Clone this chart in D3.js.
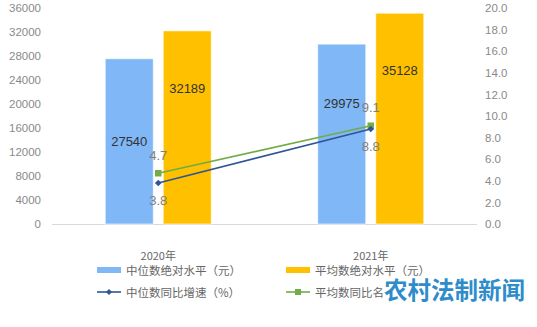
<!DOCTYPE html>
<html>
<head>
<meta charset="utf-8">
<script src="https://cdn.jsdelivr.net/npm/d3@7"></script>
<style>
  html, body { margin: 0; padding: 0; background: #fff; }
  svg { display: block; font-family: "Noto Sans CJK SC", "Liberation Sans", sans-serif; }
</style>
</head>
<body>
<svg id="chart" width="537" height="327"></svg>
<script>
// Income data: 2020 and 2021
const years = ["2020年", "2021年"];
const medianLevel = [27540, 29975];   // 中位数绝对水平（元）
const meanLevel = [32189, 35128];     // 平均数绝对水平（元）
const medianGrowth = [3.8, 8.8];      // 中位数同比增速（%）
const meanGrowth = [4.7, 9.1];        // 平均数同比名义增速（%）
const leftTicks = [0, 4000, 8000, 12000, 16000, 20000, 24000, 28000, 32000, 36000];
const rightTicks = [0, 2, 4, 6, 8, 10, 12, 14, 16, 18, 20];

const colors = {
  median: "#80b7f6",
  mean: "#ffc000",
  medianLine: "#2f5597",
  meanLine: "#70ad47"
};

const svg = d3.select("#chart");
const plot = { left: 52, right: 477, top: 8, bottom: 224 };

const x = d3.scaleBand().domain(years).range([plot.left, plot.right]);
const yL = d3.scaleLinear().domain([0, 36000]).range([plot.bottom, plot.top]);
const yR = d3.scaleLinear().domain([0, 20]).range([plot.bottom, plot.top]);

const barW = 48, barGap = 10;

// Left axis
const leftAxis = svg.append("g")
  .attr("transform", `translate(${plot.left - 11},0)`)
  .call(d3.axisLeft(yL).tickValues(leftTicks).tickSize(0).tickPadding(0).tickFormat(d3.format("d")));
leftAxis.select(".domain").remove();
leftAxis.selectAll("text").attr("fill", "#8a8a8a").style("font-size", "11.5px")
  .style("font-family", "Liberation Sans, Arial, sans-serif");

// Right axis
const rightAxis = svg.append("g")
  .attr("transform", `translate(${plot.right + 8},0)`)
  .call(d3.axisRight(yR).tickValues(rightTicks).tickSize(0).tickPadding(0).tickFormat(d3.format(".1f")));
rightAxis.select(".domain").remove();
rightAxis.selectAll("text").attr("fill", "#8a8a8a").style("font-size", "11.5px")
  .style("font-family", "Liberation Sans, Arial, sans-serif");

// Baseline
svg.append("line")
  .attr("x1", plot.left).attr("x2", plot.right)
  .attr("y1", plot.bottom + 0.5).attr("y2", plot.bottom + 0.5)
  .attr("stroke", "#d9d9d9").attr("stroke-width", 1);

// Bars
const center = d => x(d) + x.bandwidth() / 2;
const barSeries = [
  { values: medianLevel, color: colors.median, dx: -(barW + barGap / 2) },
  { values: meanLevel, color: colors.mean, dx: barGap / 2 }
];
barSeries.forEach(s => {
  svg.append("g").selectAll("rect")
    .data(years)
    .join("rect")
    .attr("x", (d) => center(d) + s.dx)
    .attr("y", (d, i) => yL(s.values[i]))
    .attr("width", barW)
    .attr("height", (d, i) => plot.bottom - yL(s.values[i]))
    .attr("fill", s.color)
    .attr("stroke", "#ffffff").attr("stroke-opacity", 0.6).attr("stroke-width", 1);
});

// Bar value labels
const barLabelOffsets = [[83, 59], [58, 57]];
barSeries.forEach((s, k) => {
  svg.append("g").selectAll("text")
    .data(years)
    .join("text")
    .attr("x", d => center(d) + s.dx + barW / 2)
    .attr("y", (d, i) => yL(s.values[i]) + barLabelOffsets[k][i])
    .attr("text-anchor", "middle")
    .attr("dominant-baseline", "central")
    .attr("fill", "#333333")
    .style("font-size", "13px")
    .style("font-family", "Liberation Sans, Arial, sans-serif")
    .text((d, i) => s.values[i]);
});

// Growth lines
const lineSeries = [
  { values: meanGrowth, color: colors.meanLine, marker: "square", labelDy: -18 },
  { values: medianGrowth, color: colors.medianLine, marker: "diamond", labelDy: 18 }
];
const line = d3.line().x(d => d[0]).y(d => d[1]);
lineSeries.forEach(s => {
  const pts = years.map((d, i) => [center(d), yR(s.values[i])]);
  svg.append("path")
    .attr("d", line(pts))
    .attr("fill", "none")
    .attr("stroke", s.color)
    .attr("stroke-width", 1.6);
  svg.append("g").selectAll("path")
    .data(pts)
    .join("path")
    .attr("transform", p => `translate(${p[0]},${p[1]})` + (s.marker === "diamond" ? " rotate(45)" : ""))
    .attr("d", s.marker === "square" ? d3.symbol(d3.symbolSquare, 42)() : d3.symbol(d3.symbolSquare, 22)())
    .attr("fill", s.color);
  svg.append("g").selectAll("text")
    .data(pts)
    .join("text")
    .attr("x", p => p[0])
    .attr("y", p => p[1] + s.labelDy)
    .attr("text-anchor", "middle")
    .attr("dominant-baseline", "central")
    .attr("fill", "#7f7f7f")
    .style("font-size", "13px")
    .style("font-family", "Liberation Sans, Arial, sans-serif")
    .text((p, i) => s.values[i].toFixed(1));
});

// Category labels
svg.append("g").selectAll("text")
  .data(years)
  .join("text")
  .attr("x", d => center(d))
  .attr("y", 255)
  .attr("text-anchor", "middle")
  .attr("dominant-baseline", "central")
  .attr("fill", "#666666")
  .style("font-size", "11px")
  .text(d => d);

// Legend
const legendItems = [
  { label: "中位数绝对水平（元）", color: colors.median, type: "bar", x: 97, y: 270 },
  { label: "平均数绝对水平（元）", color: colors.mean, type: "bar", x: 286, y: 270 },
  { label: "中位数同比增速（%）", color: colors.medianLine, type: "diamond", x: 97, y: 292 },
  { label: "平均数同比名义增速（%）", color: colors.meanLine, type: "square", x: 286, y: 292 }
];
const lg = svg.append("g").selectAll("g").data(legendItems).join("g")
  .attr("transform", d => `translate(${d.x},${d.y})`);
lg.filter(d => d.type === "bar").append("rect")
  .attr("x", 0).attr("y", -3).attr("width", 24).attr("height", 6)
  .attr("fill", d => d.color);
lg.filter(d => d.type !== "bar").append("line")
  .attr("x1", 0).attr("x2", 24).attr("y1", 0).attr("y2", 0)
  .attr("stroke", d => d.color).attr("stroke-width", 1.6);
lg.filter(d => d.type !== "bar").append("path")
  .attr("transform", d => "translate(12,0)" + (d.type === "diamond" ? " rotate(45)" : ""))
  .attr("d", d => d.type === "square" ? d3.symbol(d3.symbolSquare, 36)() : d3.symbol(d3.symbolSquare, 18)())
  .attr("fill", d => d.color);
lg.append("text")
  .attr("x", 29).attr("y", 0)
  .attr("dominant-baseline", "central")
  .attr("fill", "#666666")
  .style("font-size", "11.5px")
  .text(d => d.label);

// Masthead mark in the lower right corner
const mark = svg.append("g").attr("transform", "translate(384,289)");
mark.append("rect")
  .attr("x", -1).attr("y", -13).attr("width", 148).attr("height", 26)
  .attr("fill", "#ffffff");
mark.append("text")
  .attr("x", 0).attr("y", 0)
  .attr("dominant-baseline", "central")
  .attr("fill", "#2e8ccb")
  .style("font-size", "23.5px")
  .style("font-weight", "bold")
  .style("letter-spacing", "0px")
  .text("农村法制新闻");
</script>
</body>
</html>
